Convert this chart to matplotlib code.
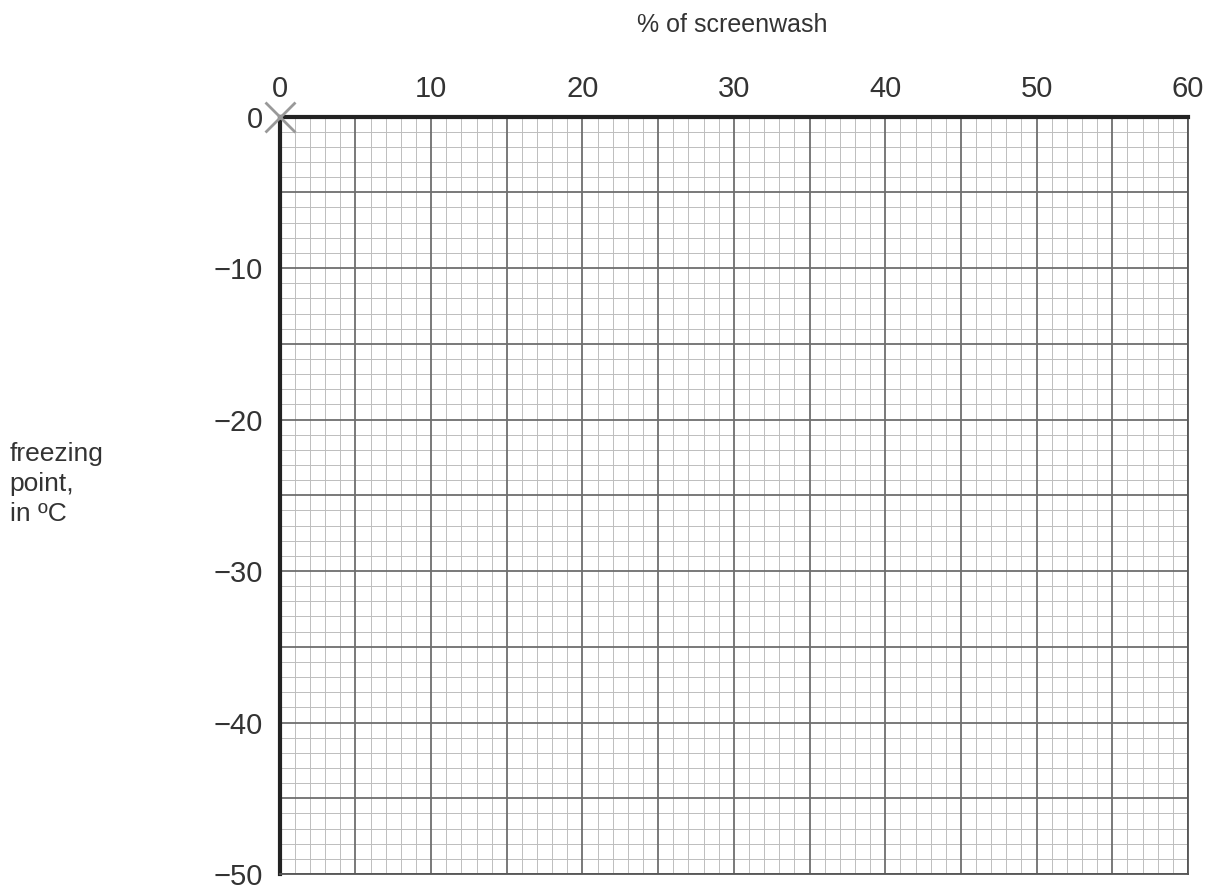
import matplotlib
matplotlib.use("Agg")
from matplotlib import pyplot as plt
from matplotlib.ticker import MultipleLocator
import numpy as np

plt.rcParams['font.family'] = ['Liberation Sans', 'DejaVu Sans']

# axis ranges and tick labels
x_ticks = [0, 10, 20, 30, 40, 50, 60]
y_ticks = [0, -10, -20, -30, -40, -50]
# pencil cross at the origin
mark_x = [0]
mark_y = [0]

fig = plt.figure(figsize=(12.11, 8.9), dpi=100)
ax = fig.add_axes([0.231, 0.018, 0.750, 0.851])
ax.set_xlim(0, 60)
ax.set_ylim(-50, 0)

ax.set_xticks(x_ticks)
ax.set_yticks(y_ticks)
ax.xaxis.set_minor_locator(MultipleLocator(1))
ax.yaxis.set_minor_locator(MultipleLocator(1))
ax.xaxis.tick_top()
ax.tick_params(which='both', length=0)
ax.tick_params(axis='x', labelsize=21, pad=10, colors='#333333')
ax.tick_params(axis='y', labelsize=21, pad=12, colors='#333333')

# graph paper: fine 1-unit lines, medium 5-unit lines
for v in np.arange(0, 61, 1):
    if v % 5 == 0:
        ax.axvline(v, color='#6e6e6e', lw=1.3, zorder=2)
    else:
        ax.axvline(v, color='#bdbdbd', lw=0.7, zorder=1)
for v in np.arange(-50, 1, 1):
    if v % 5 == 0:
        ax.axhline(v, color='#6e6e6e', lw=1.3, zorder=2)
    else:
        ax.axhline(v, color='#bdbdbd', lw=0.7, zorder=1)

for s in ['left', 'top']:
    ax.spines[s].set_linewidth(3)
    ax.spines[s].set_color('#222222')
for s in ['right', 'bottom']:
    ax.spines[s].set_linewidth(1.3)
    ax.spines[s].set_color('#555555')

ax.plot(mark_x, mark_y, marker='x', ms=22, mew=2, color='#999999',
        clip_on=False, zorder=5, ls='none')

fig.text(0.605, 0.972, '% of screenwash', ha='center', va='center',
         fontsize=18, color='#333333')
fig.text(0.008, 0.456, 'freezing\npoint,\nin \u00baC', ha='left', va='center',
         fontsize=19, color='#333333', linespacing=1.3)

fig.savefig('out.png', dpi=100)
